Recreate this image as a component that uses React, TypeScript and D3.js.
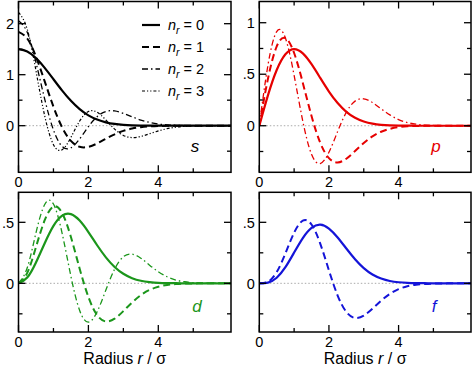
import React from "react";
import * as d3 from "d3";

// radius grid (units of sigma)
const rGrid = [0, 0.25, 0.5, 0.75, 1, 1.25, 1.5, 1.75, 2, 2.25, 2.5, 2.75, 3, 3.25, 3.5, 3.75, 4, 4.25, 4.5, 4.75, 5, 5.25, 5.5, 5.75, 6, 6.25];

// s waves, n_r = 0..3
const s0 = [1.502, 1.456, 1.326, 1.134, 0.911, 0.688, 0.488, 0.325, 0.203, 0.12, 0.066, 0.034, 0.017, 0.008, 0.003, 0.001, 0.001, 0, 0, 0, 0, 0, 0, 0, 0, 0];
const s1 = [1.84, 1.709, 1.353, 0.868, 0.372, -0.035, -0.299, -0.414, -0.415, -0.348, -0.256, -0.169, -0.102, -0.057, -0.029, -0.014, -0.006, -0.002, -0.001, 0, 0, 0, 0, 0, 0, 0];
const s2 = [2.057, 1.83, 1.24, 0.519, -0.083, -0.407, -0.434, -0.259, -0.019, 0.177, 0.279, 0.289, 0.242, 0.174, 0.111, 0.064, 0.033, 0.016, 0.007, 0.003, 0.001, 0, 0, 0, 0, 0];
const s3 = [2.222, 1.891, 1.076, 0.192, -0.372, -0.47, -0.229, 0.091, 0.278, 0.264, 0.112, -0.067, -0.191, -0.233, -0.211, -0.159, -0.103, -0.059, -0.031, -0.014, -0.006, -0.002, -0.001, 0, 0, 0];

// p waves
const p0 = [0, 0.297, 0.541, 0.694, 0.744, 0.702, 0.597, 0.464, 0.332, 0.22, 0.135, 0.077, 0.041, 0.02, 0.009, 0.004, 0.002, 0.001, 0, 0, 0, 0, 0, 0, 0, 0];
const p1 = [0, 0.458, 0.77, 0.851, 0.706, 0.416, 0.094, -0.165, -0.315, -0.356, -0.32, -0.246, -0.168, -0.103, -0.058, -0.03, -0.014, -0.006, -0.002, -0.001, 0, 0, 0, 0, 0, 0];
const p2 = [0, 0.591, 0.914, 0.851, 0.489, 0.043, -0.277, -0.367, -0.258, -0.056, 0.131, 0.239, 0.261, 0.225, 0.164, 0.105, 0.06, 0.031, 0.015, 0.006, 0.003, 0.001, 0, 0, 0, 0];

// d waves
const d0 = [0, 0.047, 0.171, 0.329, 0.471, 0.555, 0.567, 0.514, 0.42, 0.312, 0.213, 0.134, 0.078, 0.042, 0.021, 0.01, 0.004, 0.002, 0.001, 0, 0, 0, 0, 0, 0, 0];
const d1 = [0, 0.086, 0.297, 0.517, 0.629, 0.575, 0.379, 0.12, -0.112, -0.261, -0.313, -0.29, -0.228, -0.157, -0.097, -0.054, -0.028, -0.013, -0.006, -0.002, -0.001, 0, 0, 0, 0, 0];
const d2 = [0, 0.127, 0.414, 0.646, 0.65, 0.408, 0.057, -0.223, -0.318, -0.233, -0.055, 0.116, 0.218, 0.239, 0.206, 0.149, 0.095, 0.054, 0.027, 0.013, 0.005, 0.002, 0.001, 0, 0, 0];

// f waves
const f0 = [0, 0.006, 0.046, 0.132, 0.252, 0.371, 0.454, 0.481, 0.449, 0.376, 0.285, 0.197, 0.124, 0.072, 0.039, 0.019, 0.009, 0.004, 0.002, 0.001, 0, 0, 0, 0, 0, 0];
const f1 = [0, 0.013, 0.092, 0.245, 0.415, 0.513, 0.482, 0.326, 0.106, -0.1, -0.235, -0.284, -0.264, -0.207, -0.142, -0.087, -0.048, -0.024, -0.011, -0.005, -0.002, -0.001, 0, 0, 0, 0];

const legendLabels = ["0", "1", "2", "3"];
const xMajorTicks = [0, 2, 4];
const xMinorTicks = [1, 3, 5];
const yTicksS = [-0.5, 0, 0.5, 1, 1.5, 2];
const yLabelsS = [0, 1, 2];
const yTicksP = [-0.25, 0, 0.25, 0.5, 0.75, 1];
const yLabelsP = [0, 0.5, 1];
const yTicksDF = [-0.25, 0, 0.25, 0.5];
const yLabelsDF = [0, 0.5];

const FONT = "'Liberation Sans', Arial, Helvetica, sans-serif";

// line style per radial quantum number
const styles = [
  { dash: "none", width: 2.2 },
  { dash: "7,4", width: 2 },
  { dash: "6,3,1.5,3", width: 1.3 },
  { dash: "3,2,1.2,2,1.2,2", width: 1.2 },
];

const fmt = (v: number) => (v === 0 ? "0" : String(v).replace(/^0\./, "."));

const panels = [
  { id: "s", x0: 18.5, x1: 231, y0: 1.5, y1: 172.3, yDomain: [-0.914, 2.435], yTicks: yTicksS, yLabels: yLabelsS, color: "#000", series: [s0, s1, s2, s3], letter: "s", lx: 195, ly: 152 },
  { id: "p", x0: 259.3, x1: 471, y0: 1.5, y1: 172.3, yDomain: [-0.452, 1.206], yTicks: yTicksP, yLabels: yLabelsP, color: "#e60000", series: [p0, p1, p2], letter: "p", lx: 436, ly: 152 },
  { id: "d", x0: 18.5, x1: 231, y0: 192.3, y1: 332, yDomain: [-0.399, 0.746], yTicks: yTicksDF, yLabels: yLabelsDF, color: "#1b961b", series: [d0, d1, d2], letter: "d", lx: 197, ly: 312 },
  { id: "f", x0: 259.3, x1: 471, y0: 192.3, y1: 332, yDomain: [-0.399, 0.746], yTicks: yTicksDF, yLabels: yLabelsDF, color: "#1414d8", series: [f0, f1], letter: "f", lx: 434, ly: 312 },
];

function Panel({ p, bottom }: { p: any; bottom: boolean }) {
  const x = d3.scaleLinear().domain([0, 6.08]).range([p.x0, p.x1]);
  const y = d3.scaleLinear().domain(p.yDomain).range([p.y1, p.y0]);
  const line = d3
    .line<number>()
    .x((_, i) => x(rGrid[i]))
    .y((d) => y(d))
    .curve(d3.curveNatural);
  const major = 7;
  const minor = 4;
  const isLabelY = (v: number) => p.yLabels.includes(v);
  return (
    <g>
      <defs>
        <clipPath id={`clip-${p.id}`}>
          <rect x={p.x0} y={p.y0} width={p.x1 - p.x0} height={p.y1 - p.y0} />
        </clipPath>
      </defs>
      <line x1={p.x0} x2={p.x1} y1={y(0)} y2={y(0)} stroke="#aaa" strokeWidth={1} strokeDasharray="1.5,2" />
      <g clipPath={`url(#clip-${p.id})`}>
        {p.series.map((vals: number[], i: number) => (
          <path
            key={i}
            d={line(vals) || ""}
            fill="none"
            stroke={p.color}
            strokeWidth={styles[i].width}
            strokeDasharray={styles[i].dash}
          />
        ))}
      </g>
      <rect x={p.x0} y={p.y0} width={p.x1 - p.x0} height={p.y1 - p.y0} fill="none" stroke="#000" strokeWidth={1.5} />
      {/* x ticks, bottom and top, pointing in */}
      {[...xMajorTicks, ...xMinorTicks].map((t) => {
        const len = xMajorTicks.includes(t) ? major : minor;
        return (
          <g key={"x" + t}>
            <line x1={x(t)} x2={x(t)} y1={p.y1} y2={p.y1 - len} stroke="#000" strokeWidth={1.3} />
            <line x1={x(t)} x2={x(t)} y1={p.y0} y2={p.y0 + len} stroke="#000" strokeWidth={1.3} />
          </g>
        );
      })}
      {xMajorTicks.map((t) => (
        <text key={"xl" + t} x={x(t)} y={p.y1 + 15} textAnchor="middle" fontFamily={FONT} fontSize={14.5}>
          {t}
        </text>
      ))}
      {p.yTicks.map((t: number) => {
        const len = isLabelY(t) ? major : minor;
        return (
          <g key={"y" + t}>
            <line x1={p.x0} x2={p.x0 + len} y1={y(t)} y2={y(t)} stroke="#000" strokeWidth={1.3} />
            <line x1={p.x1} x2={p.x1 - len} y1={y(t)} y2={y(t)} stroke="#000" strokeWidth={1.3} />
          </g>
        );
      })}
      {p.yLabels.map((t: number) => (
        <text key={"yl" + t} x={p.x0 - 4.5} y={y(t)} dy="0.36em" textAnchor="end" fontFamily={FONT} fontSize={14.5}>
          {fmt(t)}
        </text>
      ))}
      <text x={p.lx} y={p.ly} textAnchor="middle" fontFamily={FONT} fontSize={17} fontStyle="italic" fill={p.color}>
        {p.letter}
      </text>
      {bottom && (
        <text x={(p.x0 + p.x1) / 2} y={363.5} textAnchor="middle" fontFamily={FONT} fontSize={16}>
          Radius <tspan fontStyle="italic">r</tspan> / σ
        </text>
      )}
    </g>
  );
}

export default function App() {
  const legendY = [25, 47, 69, 91];
  return (
    <svg width={474} height={366} style={{ position: "absolute", left: 0, top: 0, background: "#fff" }}>
      {panels.map((p, i) => (
        <Panel key={p.id} p={p} bottom={i >= 2} />
      ))}
      <g>
        {legendLabels.map((lab, i) => (
          <g key={lab}>
            <line x1={142} x2={160} y1={legendY[i]} y2={legendY[i]} stroke="#000" strokeWidth={styles[i].width} strokeDasharray={styles[i].dash} />
            <text x={168} y={legendY[i] + 5} fontFamily={FONT} fontSize={14.5}>
              <tspan fontStyle="italic">n</tspan>
              <tspan fontStyle="italic" fontSize={10.5} dy={4}>r</tspan>
              <tspan dy={-4}> = {lab}</tspan>
            </text>
          </g>
        ))}
      </g>
    </svg>
  );
}
